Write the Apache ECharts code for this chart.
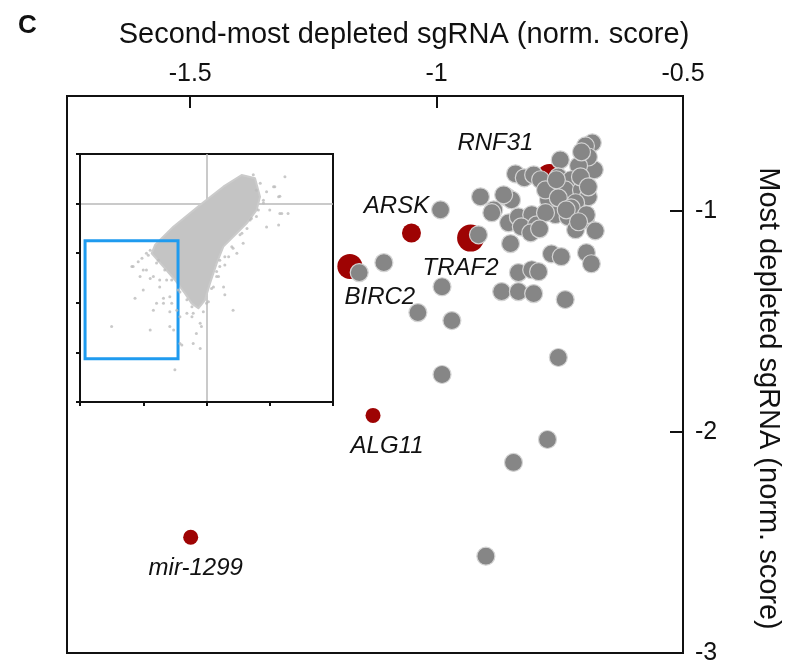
<!DOCTYPE html>
<html>
<head>
<meta charset="utf-8" />
<title>sgRNA depletion</title>
<style type="text/css">
  html, body { margin: 0; padding: 0; background: #fff; }
  #main { width: 790px; height: 667px; }
</style>
</head>
<body>
<div id="main"></div>
<script src="https://cdn.jsdelivr.net/npm/echarts@6/dist/echarts.min.js"></script>
<script type="text/javascript">
  // highlighted genes (red)
  var hitNames = ["RNF31", "ARSK", "TRAF2", "BIRC2", "ALG11", "mir-1299"];
  var hitX = [-0.771, -1.051, -0.931, -1.176, -1.129, -1.499];
  var hitY = [-0.846, -1.100, -1.123, -1.251, -1.925, -2.476];

  // all other genes (gray)
  var otherX = [
    -0.992, -1.107, -1.157, -0.989, -1.038, -0.969, -0.989, -0.753, -0.775, -0.844,
    -0.900, -0.915, -0.911, -0.884, -0.858, -0.848, -0.854, -0.834, -0.807, -0.828,
    -0.797, -0.809, -0.850, -0.834, -0.807, -0.793, -0.868, -0.834, -0.803, -0.739,
    -0.767, -0.747, -0.696, -0.686, -0.840, -0.822, -0.803, -0.789, -0.749, -0.753,
    -0.773, -0.759, -0.733, -0.718, -0.698, -0.678, -0.680, -0.684, -0.698, -0.692,
    -0.712, -0.727, -0.739, -0.706, -0.692, -0.718, -0.779, -0.706, -0.708, -0.692,
    -0.757, -0.753, -0.727, -0.696, -0.779, -0.737, -0.712, -0.791, -0.864, -0.888
  ];
  var otherY = [
    -0.995, -1.234, -1.279, -1.343, -1.460, -1.496, -1.740, -1.663, -2.034, -2.138,
    -2.562, -1.108, -0.936, -0.995, -0.936, -0.950, -1.054, -1.027, -1.017, -1.072,
    -1.063, -1.099, -1.148, -1.279, -1.266, -1.275, -1.365, -1.365, -1.374, -1.401,
    -1.194, -1.207, -1.189, -1.239, -0.832, -0.850, -0.837, -0.859, -0.769, -0.846,
    -0.950, -1.017, -1.027, -1.085, -1.040, -1.090, -0.814, -0.692, -0.706, -0.756,
    -0.796, -0.859, -0.905, -0.905, -0.936, -0.963, -0.905, -0.733, -0.846, -0.891,
    -0.859, -0.941, -0.986, -1.017, -1.008, -0.995, -1.049, -1.081, -0.927, -1.008
  ];

  // inset: outline of the dense genome-wide cloud
  var cloudX = [0.556, 0.767, 0.846, 0.793, 0.635, 0.477, 0.266, 0.161, 0.055, -0.024,
                -0.129, -0.235, -0.340, -0.498, -0.682, -0.867, -0.814, -0.524, -0.103, 0.266];
  var cloudY = [0.577, 0.510, 0.139, -0.129, -0.398, -0.600, -0.868, -1.204, -1.608, -1.944,
                -2.111, -2.011, -1.809, -1.540, -1.271, -1.003, -0.835, -0.465, -0.028, 0.341];

  // inset: scattered genes around the dense cloud
  var sparseX = [
    1.24, 1.06, 1.14, 0.95, 0.90, 1.29, 1.16, 1.00, 0.95, 1.14, 0.79, 0.69, 0.56, 0.58,
    0.40, 0.29, 0.48, 0.21, 0.16, 0.27, 0.11, 0.42, 0.74, 0.85, 0.00, -0.21, -0.10, -0.16,
    -0.21, -0.10, -0.50, -0.42, -0.52, -0.58, -0.58, -0.68, -0.79, -0.89, -1.50, -1.13,
    -1.00, -1.05, -1.18, -1.02, -0.95, -0.84, -0.74, -0.89, -0.45, -0.58, -0.63, -1.08,
    -0.79, -1.00,
    1.08, 1.16, 1.19, 0.35, 0.21, 0.19, 0.29, -0.08, -0.39, -0.84, -0.68, -1.16, -0.92,
    -0.95, -0.55, -0.47, -0.31, -0.23, -0.42, -0.74, 0.79, 0.90, 0.82, 0.71, 0.64, 0.53,
    0.42, 0.29, 0.16, 0.08, 0.03, -0.05, -0.89, -0.76, -0.66, -0.55, -0.42, -0.31, -0.23
  ];
  var sparseY = [
    0.54, 0.34, 0.14, 0.24, 0.07, -0.20, -0.20, -0.13, -0.47, -0.43, -0.26, -0.33, -0.60, -0.80,
    -0.87, -1.07, -1.00, -1.27, -1.47, -1.68, -1.68, -2.15, 0.58, 0.41, -2.01, -2.21, -2.41, -2.62,
    -2.82, -2.92, -3.35, -2.82, -2.55, -2.48, -2.18, -2.01, -2.01, -2.55, -2.48, -1.91,
    -1.74, -1.47, -1.27, -1.10, -1.00, -1.47, -1.68, -1.51, -1.74, -1.88, -1.54, -1.17,
    -1.20, -1.34,
    0.34, 0.15, -0.20, -1.07, -1.14, -1.47, -1.84, -2.48, -2.85, -2.15, -1.91, -1.27, -1.04,
    -1.34, -2.01, -2.15, -2.21, -2.28, -2.28, -1.54, 0.27, 0.01, -0.13, -0.30, -0.50, -0.63,
    -0.90, -1.24, -1.37, -1.71, -1.98, -2.18, -0.94, -1.14, -1.34, -1.54, -1.78, -1.94, -2.08
  ];

  // region of the main plot, marked in the inset
  var zoomBoxX = [-1.92, -0.45];
  var zoomBoxY = [-3.13, -0.75];

  var xTicks = [-1.5, -1, -0.5];
  var yTicks = [-3, -2, -1];

  var font = "Liberation Sans";
  var hitStyle = {
    "RNF31":    { size: 26, offset: [-54, -34] },
    "ARSK":     { size: 19, offset: [-15, -27] },
    "TRAF2":    { size: 27, offset: [-10, 30] },
    "BIRC2":    { size: 25, offset: [30, 31] },
    "ALG11":    { size: 15, offset: [14, 31] },
    "mir-1299": { size: 15, offset: [5, 31] }
  };

  var hitData = hitNames.map(function (n, i) {
    return {
      name: n,
      value: [hitX[i], hitY[i]],
      symbolSize: hitStyle[n].size,
      label: { offset: hitStyle[n].offset }
    };
  });
  var otherData = otherX.map(function (x, i) { return [x, otherY[i]]; });
  var cloudData = cloudX.map(function (x, i) { return [x, cloudY[i]]; });
  var sparseData = sparseX.map(function (x, i) { return [x, sparseY[i]]; });

  var myChart = echarts.init(document.getElementById("main"));

  var insetAxis = {
    gridIndex: 1,
    type: "value",
    interval: 1,
    axisLine: { show: true, onZero: false, lineStyle: { color: "#111", width: 2 } },
    axisTick: { show: true, inside: false, length: 4, lineStyle: { color: "#111", width: 2 } },
    axisLabel: { show: false },
    splitLine: { show: false },
    z: 9
  };

  var option = {
    backgroundColor: "#fff",
    animation: false,
    textStyle: { fontFamily: font },
    graphic: [
      {
        type: "text",
        left: 18,
        top: 13,
        style: { text: "C", font: "bold 26px " + font, fill: "#111" }
      }
    ],
    grid: [
      {
        left: 67, right: 105, top: 96, bottom: 14,
        show: true, borderColor: "#111", borderWidth: 2
      },
      {
        left: 80, top: 154, width: 253, height: 248,
        show: true, backgroundColor: "#fff", borderColor: "#111", borderWidth: 2,
        z: 5
      }
    ],
    xAxis: [
      {
        gridIndex: 0,
        type: "value",
        position: "top",
        min: -1.75,
        max: -0.5,
        name: "Second-most depleted sgRNA (norm. score)",
        nameLocation: "middle",
        nameGap: 47,
        nameTextStyle: { fontSize: 29, color: "#111", padding: [0, 0, 0, 58] },
        axisLine: { show: true, onZero: false, lineStyle: { color: "#111", width: 2 } },
        axisTick: { show: true, inside: true, length: 12, customValues: xTicks,
                    lineStyle: { color: "#111", width: 2 } },
        axisLabel: { show: true, customValues: xTicks, fontSize: 25, color: "#111", margin: 9 },
        splitLine: { show: false }
      },
      Object.assign({}, insetAxis, { min: -2, max: 2, position: "bottom" })
    ],
    yAxis: [
      {
        gridIndex: 0,
        type: "value",
        position: "right",
        min: -3,
        max: -0.48,
        name: "Most depleted sgRNA (norm. score)",
        nameLocation: "middle",
        nameRotate: -90,
        nameGap: 70,
        nameTextStyle: { fontSize: 29, color: "#111", padding: [0, 0, 0, 48] },
        axisLine: { show: true, onZero: false, lineStyle: { color: "#111", width: 2 } },
        axisTick: { show: true, inside: true, length: 13, customValues: yTicks,
                    lineStyle: { color: "#111", width: 2 } },
        axisLabel: { show: true, customValues: yTicks, fontSize: 25, color: "#111", margin: 12 },
        splitLine: { show: false }
      },
      Object.assign({}, insetAxis, { min: -4, max: 1, position: "left" })
    ],
    series: [
      {
        name: "hits",
        type: "scatter",
        xAxisIndex: 0,
        yAxisIndex: 0,
        data: hitData,
        itemStyle: { color: "#9e0303", opacity: 1 },
        label: {
          show: true,
          position: "inside",
          formatter: "{b}",
          fontSize: 24,
          fontStyle: "italic",
          color: "#111",
          align: "center",
          verticalAlign: "middle"
        },
        z: 2
      },
      {
        name: "other",
        type: "scatter",
        xAxisIndex: 0,
        yAxisIndex: 0,
        symbolSize: 18,
        data: otherData,
        itemStyle: { color: "#868686", borderColor: "#d4d4d4", borderWidth: 1.2, opacity: 1 },
        z: 3
      },
      {
        name: "cloud",
        type: "custom",
        xAxisIndex: 1,
        yAxisIndex: 1,
        data: cloudData,
        renderItem: function (params, api) {
          if (params.dataIndex !== 0) return null;
          var pts = cloudData.map(function (d) { return api.coord(d); });
          return {
            type: "polygon",
            shape: { points: pts },
            style: { fill: "#c4c4c4", stroke: "#cbcbcb", lineWidth: 2, lineJoin: "round" }
          };
        },
        z: 7
      },
      {
        name: "sparse",
        type: "scatter",
        xAxisIndex: 1,
        yAxisIndex: 1,
        symbolSize: 3,
        data: sparseData,
        itemStyle: { color: "#bcbcbc" },
        z: 8,
        markLine: {
          silent: true,
          symbol: "none",
          z: 6,
          label: { show: false },
          lineStyle: { color: "#b8b8b8", width: 1.5, type: "solid" },
          data: [{ xAxis: 0 }, { yAxis: 0 }]
        },
        markArea: {
          silent: true,
          z: 8,
          itemStyle: { color: "rgba(0,0,0,0)", borderColor: "#1f9bef", borderWidth: 3 },
          data: [[{ coord: [zoomBoxX[0], zoomBoxY[1]] }, { coord: [zoomBoxX[1], zoomBoxY[0]] }]]
        }
      }
    ]
  };

  myChart.setOption(option);
</script>
</body>
</html>
